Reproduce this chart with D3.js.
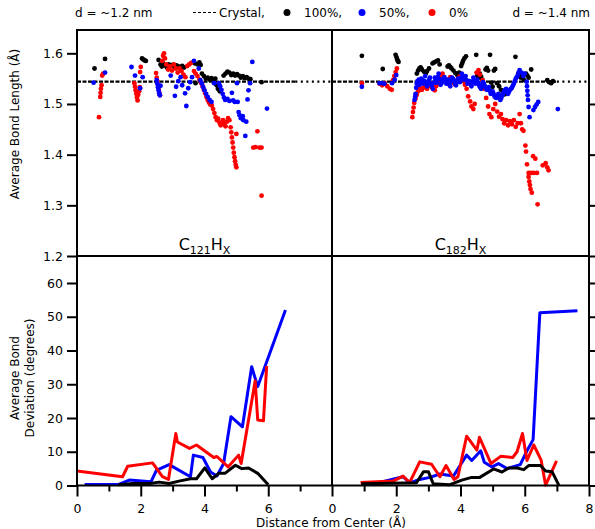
<!DOCTYPE html>
<html lang="en">
<head>
<meta charset="utf-8" />
<title>Average bond length and deviation</title>
<script src="https://d3js.org/d3.v7.min.js"></script>
<style>
  body { margin: 0; background: white; }
  text { font-family: "DejaVu Sans", sans-serif; font-size: 12px; fill: black; }
  .tick text { font-size: 12.5px; }
  .tick line { stroke-width: 2; }
</style>
</head>
<body>
<script>
// ---- data (distance in Å) ----
// top panels: [distance, average bond length]
const left100 = [[0.55,1.570],[0.88,1.589],[2.04,1.590],[2.08,1.588],[2.12,1.586],[2.16,1.585],[2.56,1.587],[2.62,1.578],[2.66,1.574],[2.70,1.580],[2.76,1.576],[2.82,1.572],[2.88,1.578],[2.94,1.575],[3.00,1.577],[3.06,1.573],[3.12,1.576],[3.18,1.574],[3.24,1.571],[3.30,1.575],[3.36,1.572],[3.66,1.583],[3.70,1.580],[3.72,1.541],[3.78,1.578],[3.84,1.582],[3.88,1.577],[3.92,1.560],[3.98,1.555],[4.04,1.550],[4.10,1.552],[4.16,1.548],[4.22,1.551],[4.28,1.547],[4.34,1.550],[4.38,1.537],[4.42,1.530],[4.48,1.525],[4.52,1.528],[4.60,1.556],[4.66,1.560],[4.72,1.564],[4.78,1.562],[4.84,1.557],[4.90,1.560],[4.96,1.556],[5.02,1.559],[5.08,1.556],[5.14,1.552],[5.20,1.555],[5.26,1.551],[5.32,1.553],[5.38,1.550],[5.44,1.549],[5.79,1.543]];
const left50 = [[0.52,1.542],[0.88,1.562],[1.71,1.573],[1.82,1.556],[1.98,1.531],[2.06,1.553],[2.50,1.547],[2.52,1.540],[2.54,1.533],[2.56,1.527],[2.58,1.521],[2.60,1.517],[2.62,1.536],[2.94,1.556],[3.07,1.516],[3.11,1.534],[3.18,1.545],[3.25,1.553],[3.30,1.537],[3.39,1.521],[3.43,1.496],[3.49,1.531],[3.55,1.543],[3.61,1.553],[3.67,1.585],[3.82,1.570],[3.87,1.547],[3.92,1.540],[3.96,1.533],[4.00,1.527],[4.05,1.520],[4.10,1.514],[4.16,1.508],[4.22,1.504],[4.30,1.541],[4.45,1.541],[4.49,1.535],[4.53,1.528],[4.57,1.520],[4.61,1.513],[4.65,1.508],[4.72,1.510],[4.78,1.506],[4.86,1.522],[4.90,1.507],[4.95,1.504],[5.02,1.541],[5.04,1.504],[5.07,1.484],[5.10,1.478],[5.14,1.472],[5.20,1.476],[5.22,1.468],[5.28,1.437],[5.31,1.465],[5.35,1.509],[5.38,1.527],[5.43,1.541],[5.50,1.583],[5.96,1.491]];
const left0 = [[0.69,1.474],[0.73,1.514],[0.74,1.522],[0.75,1.530],[0.77,1.537],[0.79,1.556],[0.82,1.560],[1.80,1.541],[1.82,1.534],[1.84,1.527],[1.86,1.520],[1.88,1.513],[1.90,1.507],[1.92,1.518],[1.95,1.525],[1.97,1.533],[1.98,1.563],[2.00,1.573],[2.48,1.561],[2.50,1.552],[2.52,1.545],[2.54,1.538],[2.56,1.530],[2.58,1.522],[2.60,1.517],[2.67,1.585],[2.70,1.595],[2.73,1.600],[2.76,1.590],[2.80,1.578],[2.86,1.568],[2.92,1.574],[2.98,1.566],[3.04,1.578],[3.10,1.570],[3.16,1.562],[3.22,1.570],[3.28,1.565],[3.34,1.558],[3.40,1.553],[3.46,1.575],[3.52,1.578],[3.58,1.581],[3.67,1.565],[3.72,1.560],[3.78,1.555],[3.84,1.548],[3.90,1.541],[3.94,1.535],[3.98,1.528],[4.02,1.521],[4.06,1.514],[4.10,1.508],[4.14,1.503],[4.18,1.499],[4.23,1.497],[4.27,1.490],[4.31,1.482],[4.35,1.474],[4.39,1.468],[4.43,1.471],[4.47,1.463],[4.51,1.458],[4.54,1.462],[4.58,1.468],[4.62,1.460],[4.66,1.456],[4.70,1.465],[4.74,1.472],[4.78,1.468],[4.82,1.454],[4.84,1.444],[4.86,1.434],[4.88,1.424],[4.90,1.414],[4.92,1.404],[4.94,1.395],[4.96,1.387],[4.98,1.380],[5.00,1.375],[5.00,1.441],[5.53,1.414],[5.60,1.415],[5.66,1.446],[5.72,1.414],[5.79,1.414],[5.79,1.319]];

const right100 = [[0.93,1.595],[1.58,1.569],[1.98,1.597],[2.01,1.592],[2.03,1.588],[2.05,1.585],[2.07,1.583],[2.64,1.560],[2.68,1.566],[2.72,1.570],[2.76,1.572],[2.80,1.568],[2.86,1.564],[2.92,1.560],[2.96,1.565],[3.02,1.570],[3.13,1.580],[3.18,1.582],[3.24,1.584],[3.30,1.586],[3.35,1.578],[3.60,1.574],[3.64,1.576],[3.68,1.573],[3.72,1.570],[3.78,1.566],[3.84,1.561],[3.90,1.557],[3.96,1.562],[4.02,1.575],[4.05,1.580],[4.08,1.585],[4.12,1.590],[4.17,1.594],[4.49,1.597],[4.52,1.556],[4.56,1.552],[4.60,1.560],[4.64,1.554],[4.68,1.548],[4.72,1.540],[4.78,1.568],[4.82,1.571],[4.86,1.566],[4.92,1.597],[4.96,1.542],[5.00,1.534],[5.04,1.566],[5.08,1.569],[5.14,1.541],[5.20,1.535],[5.26,1.528],[5.32,1.522],[5.38,1.519],[5.44,1.522],[5.48,1.525],[5.71,1.593],[5.80,1.560],[5.84,1.556],[5.88,1.552],[5.92,1.558],[5.98,1.547],[6.04,1.560],[6.08,1.556],[6.12,1.552],[6.20,1.568],[6.70,1.547],[6.76,1.543],[6.82,1.541],[6.88,1.545]];
const right50 = [[0.93,1.534],[1.48,1.541],[1.55,1.541],[1.63,1.540],[1.87,1.541],[1.95,1.548],[2.00,1.557],[2.57,1.508],[2.59,1.515],[2.60,1.520],[2.62,1.532],[2.64,1.540],[2.66,1.545],[2.70,1.548],[2.72,1.538],[2.76,1.543],[2.78,1.550],[2.82,1.547],[2.84,1.540],[2.88,1.545],[2.90,1.555],[2.93,1.542],[2.96,1.535],[2.99,1.543],[3.02,1.548],[3.05,1.552],[3.08,1.540],[3.11,1.536],[3.14,1.530],[3.17,1.542],[3.20,1.552],[3.23,1.548],[3.26,1.542],[3.29,1.553],[3.32,1.560],[3.35,1.549],[3.38,1.538],[3.41,1.541],[3.44,1.546],[3.47,1.550],[3.50,1.553],[3.53,1.547],[3.56,1.540],[3.59,1.544],[3.62,1.548],[3.65,1.541],[3.68,1.535],[3.71,1.545],[3.74,1.552],[3.77,1.549],[3.80,1.545],[3.83,1.540],[3.86,1.537],[3.89,1.544],[3.92,1.550],[3.95,1.547],[3.98,1.543],[4.01,1.552],[4.04,1.560],[4.07,1.554],[4.10,1.548],[4.13,1.551],[4.16,1.555],[4.19,1.547],[4.22,1.540],[4.25,1.543],[4.28,1.545],[4.31,1.540],[4.34,1.535],[4.37,1.544],[4.40,1.552],[4.43,1.546],[4.46,1.540],[4.49,1.544],[4.52,1.548],[4.55,1.542],[4.58,1.537],[4.61,1.533],[4.64,1.530],[4.67,1.537],[4.70,1.543],[4.73,1.539],[4.76,1.535],[4.79,1.531],[4.82,1.528],[4.85,1.530],[4.88,1.533],[4.91,1.526],[4.94,1.520],[4.97,1.523],[5.00,1.525],[5.03,1.520],[5.06,1.515],[5.09,1.513],[5.12,1.512],[5.15,1.516],[5.18,1.520],[5.21,1.514],[5.24,1.508],[5.27,1.512],[5.30,1.517],[5.33,1.521],[5.36,1.525],[5.39,1.528],[5.42,1.530],[5.45,1.525],[5.48,1.520],[5.51,1.524],[5.54,1.528],[5.57,1.530],[5.60,1.532],[5.63,1.536],[5.66,1.540],[5.69,1.545],[5.72,1.550],[5.75,1.553],[5.78,1.556],[5.81,1.562],[5.84,1.567],[5.90,1.562],[5.96,1.555],[6.00,1.560],[6.06,1.544],[6.07,1.535],[6.08,1.526],[6.09,1.517],[6.10,1.508],[6.12,1.494],[6.15,1.474],[6.27,1.488],[6.32,1.494],[6.37,1.499],[6.42,1.504],[7.03,1.490]];
const right0 = [[0.93,1.541],[1.48,1.540],[1.56,1.537],[1.64,1.541],[1.72,1.535],[1.80,1.530],[1.86,1.528],[1.90,1.547],[1.94,1.555],[1.98,1.563],[2.02,1.570],[2.50,1.474],[2.52,1.484],[2.54,1.493],[2.56,1.502],[2.60,1.511],[2.64,1.518],[2.68,1.525],[2.73,1.531],[2.76,1.528],[2.80,1.528],[2.84,1.532],[2.88,1.535],[2.92,1.533],[2.96,1.530],[3.00,1.536],[3.04,1.540],[3.08,1.535],[3.12,1.532],[3.16,1.529],[3.20,1.527],[3.24,1.535],[3.28,1.540],[3.32,1.546],[3.36,1.552],[3.40,1.556],[3.44,1.560],[3.48,1.553],[3.52,1.548],[3.56,1.543],[3.60,1.540],[3.64,1.548],[3.68,1.553],[3.72,1.550],[3.76,1.545],[3.80,1.541],[3.84,1.538],[3.88,1.545],[3.92,1.550],[3.96,1.553],[4.00,1.555],[4.04,1.550],[4.08,1.545],[4.14,1.538],[4.19,1.530],[4.24,1.515],[4.30,1.505],[4.34,1.495],[4.40,1.490],[4.44,1.500],[4.50,1.562],[4.56,1.567],[4.60,1.558],[4.69,1.547],[4.74,1.530],[4.80,1.512],[4.86,1.495],[4.90,1.480],[4.96,1.474],[5.02,1.490],[5.08,1.500],[5.14,1.485],[5.20,1.475],[5.26,1.480],[5.31,1.470],[5.36,1.462],[5.42,1.468],[5.48,1.458],[5.54,1.466],[5.60,1.460],[5.66,1.468],[5.72,1.455],[5.78,1.462],[5.84,1.480],[5.88,1.462],[5.92,1.450],[5.96,1.447],[6.02,1.418],[6.04,1.406],[6.07,1.381],[6.12,1.364],[6.20,1.364],[6.28,1.364],[6.38,1.364],[6.12,1.356],[6.14,1.347],[6.16,1.340],[6.18,1.332],[6.22,1.325],[6.26,1.397],[6.33,1.392],[6.40,1.302],[6.56,1.379],[6.65,1.383],[6.70,1.375],[6.74,1.369]];

// bottom panels: [distance, average bond deviation in degrees]
const leftDev100 = [[1.30,0.2],[1.74,0.6],[2.28,0.6],[2.58,1.0],[2.89,0.6],[3.20,1.3],[3.56,2.0],[3.75,2.0],[4.01,5.2],[4.24,2.0],[4.45,3.6],[4.64,3.6],[4.97,6.0],[5.17,5.0],[5.38,5.2],[5.67,3.6],[6.00,0.2]];
const leftDev50 = [[0.24,0.3],[1.31,0.3],[1.64,1.6],[2.32,1.1],[2.49,4.5],[2.89,6.2],[3.56,2.6],[3.65,9.0],[3.95,8.3],[4.19,4.0],[4.39,2.8],[4.60,6.5],[4.83,20.4],[5.19,17.4],[5.48,35.2],[5.67,29.3],[6.54,52.0]];
const leftDev0 = [[0.00,4.3],[1.43,2.6],[1.59,5.7],[2.37,6.7],[2.68,2.6],[2.87,1.8],[3.10,15.4],[3.15,12.9],[3.53,11.0],[3.75,12.0],[4.29,8.3],[4.39,8.6],[4.74,5.5],[5.07,9.0],[5.15,6.5],[5.59,31.0],[5.67,19.4],[5.85,19.2],[5.95,35.4]];

const rightDev100 = [[0.91,0.5],[2.63,0.8],[2.85,4.1],[3.00,4.1],[3.15,0.5],[3.65,0.2],[4.04,1.6],[4.35,2.4],[4.60,2.4],[5.03,4.9],[5.29,4.0],[5.50,5.2],[5.76,5.2],[5.97,4.7],[6.12,5.9],[6.49,5.9],[6.65,4.3],[6.85,4.1],[7.06,0.1]];
const rightDev50 = [[0.91,0.9],[1.48,0.9],[2.21,2.6],[2.42,0.8],[2.73,1.8],[3.05,2.4],[3.36,3.4],[3.78,2.8],[4.19,9.0],[4.35,7.4],[4.63,10.3],[4.74,6.9],[4.98,5.5],[5.18,6.5],[5.45,5.0],[5.86,6.2],[6.07,10.3],[6.26,13.6],[6.47,51.2],[7.64,51.8]];
const rightDev0 = [[0.89,0.9],[1.90,1.3],[2.21,2.8],[2.42,0.9],[2.73,7.0],[3.10,6.3],[3.36,2.6],[3.55,5.9],[3.80,1.8],[3.92,2.6],[4.19,14.6],[4.51,10.5],[4.59,14.3],[4.95,6.5],[5.26,8.7],[5.63,8.3],[5.76,10.0],[5.93,15.4],[6.07,7.4],[6.28,12.0],[6.51,7.5],[6.65,0.1],[6.99,7.3]];

const crystalLength = 1.544;
const crystalExtent = [6.85, 7.0]; // where the dense crystal dashes stop (left, right)
const xMajor = [0, 2, 4, 6, 8];
const xMinor = [1, 3, 5, 7];
const lengthTicks = [1.2, 1.3, 1.4, 1.5, 1.6];
const devTicks = [0, 10, 20, 30, 40, 50, 60];

const colors = { c100: "#000000", c50: "#0000ff", c0: "#ff0000" };

const w = 595;
const h = 529;

const svg = d3.select("body").append("svg").attr("width", w).attr("height", h);

// scales
const xLeft = d3.scaleLinear().domain([0, 8]).range([77, 332]);
const xRight = d3.scaleLinear().domain([0, 8]).range([332, 589]);
const yLen = d3.scaleLinear().domain([1.2, 1.646]).range([256, 30]);
const yDev = d3.scaleLinear().domain([0, 68]).range([485.5, 256]);

// crystal reference line
[[xLeft, crystalExtent[0]], [xRight, crystalExtent[1]]].forEach(function (p) {
  const x = p[0];
  svg.append("line")
    .attr("x1", x(0)).attr("x2", x(p[1]))
    .attr("y1", yLen(crystalLength)).attr("y2", yLen(crystalLength))
    .attr("stroke", "black").attr("stroke-width", 2.2)
    .attr("stroke-dasharray", "4,1.5");
  svg.append("line")
    .attr("x1", x(p[1])).attr("x2", x(8))
    .attr("y1", yLen(crystalLength)).attr("y2", yLen(crystalLength))
    .attr("stroke", "black").attr("stroke-width", 2.2)
    .attr("stroke-dasharray", "2,3.5");
});

// scatter points
function dots(data, x, color) {
  svg.append("g")
    .selectAll("circle")
    .data(data)
    .enter()
    .append("circle")
    .attr("cx", function (d) { return x(d[0]); })
    .attr("cy", function (d) { return yLen(d[1]); })
    .attr("r", 2.4)
    .attr("fill", color);
}
dots(left100, xLeft, colors.c100);
dots(left0, xLeft, colors.c0);
dots(left50, xLeft, colors.c50);
dots(right100, xRight, colors.c100);
dots(right0, xRight, colors.c0);
dots(right50, xRight, colors.c50);

// deviation lines
function trace(data, x, color) {
  const line = d3.line()
    .x(function (d) { return x(d[0]); })
    .y(function (d) { return yDev(d[1]); });
  svg.append("path")
    .datum(data)
    .attr("fill", "none")
    .attr("stroke", color)
    .attr("stroke-width", 3)
    .attr("stroke-linejoin", "round")
    .attr("d", line);
}
trace(leftDev50, xLeft, colors.c50);
trace(leftDev0, xLeft, colors.c0);
trace(leftDev100, xLeft, colors.c100);
trace(rightDev50, xRight, colors.c50);
trace(rightDev0, xRight, colors.c0);
trace(rightDev100, xRight, colors.c100);

// frame
svg.append("rect")
  .attr("x", 77).attr("y", 30)
  .attr("width", 589 - 77).attr("height", 485.5 - 30)
  .attr("fill", "none").attr("stroke", "black").attr("stroke-width", 2);
svg.append("line").attr("x1", 332).attr("x2", 332).attr("y1", 30).attr("y2", 485.5)
  .attr("stroke", "black").attr("stroke-width", 2);
svg.append("line").attr("x1", 77).attr("x2", 589).attr("y1", 256).attr("y2", 256)
  .attr("stroke", "black").attr("stroke-width", 2);

// axes
function clean(g) { g.select(".domain").remove(); }

svg.append("g").attr("transform", "translate(77,0)")
  .call(d3.axisLeft(yLen).tickValues(lengthTicks).tickSize(10).tickPadding(4).tickFormat(d3.format(".1f")))
  .call(clean);
svg.append("g").attr("transform", "translate(77,0)")
  .call(d3.axisLeft(yDev).tickValues(devTicks).tickSize(10).tickPadding(4))
  .call(clean);
svg.append("g").attr("transform", "translate(589,0)")
  .call(d3.axisRight(yLen).tickValues(lengthTicks).tickSize(6).tickFormat(""))
  .call(clean);
svg.append("g").attr("transform", "translate(589,0)")
  .call(d3.axisRight(yDev).tickValues(devTicks).tickSize(6).tickFormat(""))
  .call(clean);

svg.append("g").attr("transform", "translate(0,485.5)")
  .call(d3.axisBottom(xLeft).tickValues(xMajor.slice(0, 4)).tickSize(11).tickPadding(8))
  .call(clean);
svg.append("g").attr("transform", "translate(0,485.5)")
  .call(d3.axisBottom(xRight).tickValues(xMajor).tickSize(11).tickPadding(8))
  .call(clean);
svg.append("g").attr("transform", "translate(0,485.5)")
  .call(d3.axisBottom(xLeft).tickValues(xMinor).tickSize(6).tickFormat(""))
  .call(clean);
svg.append("g").attr("transform", "translate(0,485.5)")
  .call(d3.axisBottom(xRight).tickValues(xMinor).tickSize(6).tickFormat(""))
  .call(clean);

// axis titles
svg.append("text")
  .attr("transform", "translate(19,124) rotate(-90)")
  .attr("text-anchor", "middle")
  .text("Average Bond Length (Å)");
const devTitle = svg.append("text")
  .attr("transform", "translate(21,378) rotate(-90)")
  .attr("text-anchor", "middle");
devTitle.append("tspan").attr("x", 0).attr("dy", "-0.2em").text("Average Bond");
devTitle.append("tspan").attr("x", 0).attr("dy", "1.25em").text("Deviation (degrees)");

svg.append("text")
  .attr("x", 331).attr("y", 527)
  .attr("text-anchor", "middle")
  .text("Distance from Center (Å)");

// panel labels C121HX, C182HX
function formula(x, n) {
  const t = svg.append("text")
    .attr("x", x).attr("y", 250)
    .attr("text-anchor", "middle")
    .style("font-size", "16px");
  t.append("tspan").text("C");
  t.append("tspan").attr("dy", 4).style("font-size", "11px").text(n);
  t.append("tspan").attr("dy", -4).text("H");
  t.append("tspan").attr("dy", 4).style("font-size", "11px").text("X");
}
formula(xLeft(4), "121");
formula(xRight(4), "182");

// legend row
svg.append("text").attr("x", 75).attr("y", 17).text("d = ~1.2 nm");
svg.append("text").attr("x", 590).attr("y", 17).attr("text-anchor", "end").text("d = ~1.4 nm");
svg.append("line")
  .attr("x1", 193).attr("x2", 218).attr("y1", 12.5).attr("y2", 12.5)
  .attr("stroke", "black").attr("stroke-width", 1.2).attr("stroke-dasharray", "3,2");
svg.append("text").attr("x", 219).attr("y", 17).text("Crystal,");

const legendItems = [["100%,", colors.c100, 287], ["50%,", colors.c50, 362], ["0%", colors.c0, 432]];
legendItems.forEach(function (d) {
  svg.append("circle").attr("cx", d[2]).attr("cy", 12.5).attr("r", 3.5).attr("fill", d[1]);
  svg.append("text").attr("x", d[2] + 17).attr("y", 17).text(d[0]);
});
</script>
</body>
</html>
